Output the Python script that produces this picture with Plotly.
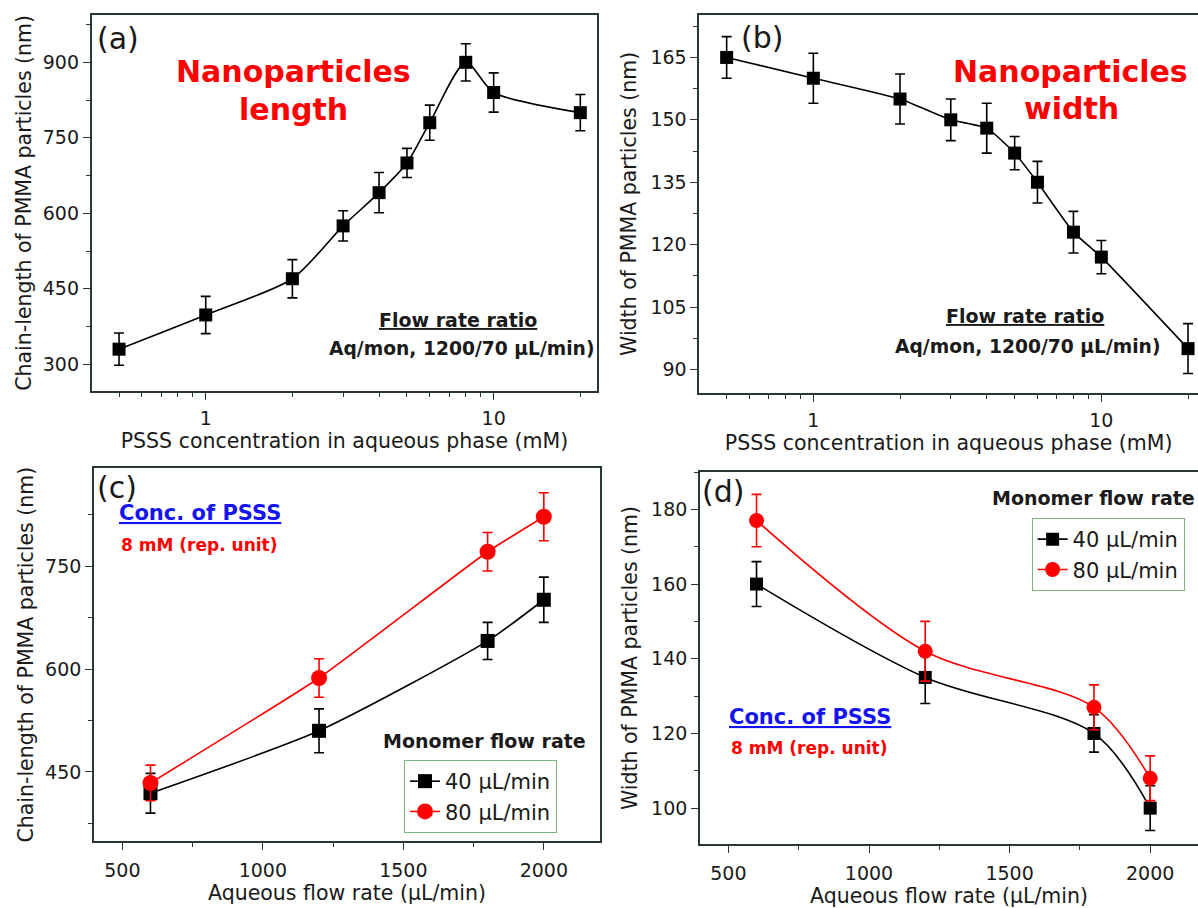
import plotly.graph_objects as go

FONT = "DejaVu Sans"

# ---------------- data ----------------
# Panel (a): chain-length vs PSSS concentration
conc_a = [0.5, 1, 2, 3, 4, 5, 6, 8, 10, 20]
length_a = [330, 398, 470, 575, 641, 700, 780, 900, 840, 800]
length_a_err = [32, 37, 38, 30, 40, 29, 35, 37, 39, 36]

# Panel (b): width vs PSSS concentration
conc_b = [0.5, 1, 2, 3, 4, 5, 6, 8, 10, 20]
width_b = [165, 160, 155, 150, 148, 142, 135, 123, 117, 95]
width_b_err = [5, 6, 6, 5, 6, 4, 5, 5, 4, 6]

# Panels (c), (d): vs aqueous flow rate
aq_flow = [600, 1200, 1800, 2000]
length_40 = [419, 510, 641, 701]
length_40_err = [29, 32, 27, 33]
length_80 = [434, 587, 771, 822]
length_80_err = [26, 28, 28, 35]
width_40 = [160, 135, 120, 100]
width_40_err = [6, 7, 5, 6]
width_80 = [177, 142, 127, 108]
width_80_err = [7, 8, 6, 6]

series_names = ["40 \u00b5L/min", "80 \u00b5L/min"]

log_tickvals = [1, 10]
log_ticktext = ["1", "10"]
log_minor_tickvals = [0.5, 0.6, 0.7, 0.8, 0.9, 2, 3, 4, 5, 6, 7, 8, 9, 20]
flow_tickvals = [500, 1000, 1500, 2000]

# ---------------- layout helpers ----------------
W, H = 1198, 908


def fx(p):
    return p / W


def fy(p):
    return 1 - p / H


AXC = "#2a3832"
TXT = "#1a1a1a"
RED = "#ff0000"
BLUE = "#1414f0"
BLACK = "#000000"


def base_axis(**kw):
    d = dict(
        showline=True, linecolor=AXC, linewidth=1.7,
        ticks="outside", ticklen=7, tickwidth=1.4, tickcolor=AXC,
        showgrid=False, zeroline=False,
        tickfont=dict(family=FONT, size=19, color=TXT),
        title_font=dict(family=FONT, size=20.5, color=TXT),
    )
    d.update(kw)
    return d


fig = go.Figure()


def add_series(x, y, err, xa, ya, color, symbol, msize, smoothing, name=None,
               legend=None, showlegend=False):
    fig.add_trace(go.Scatter(
        x=x, y=y, name=name, xaxis=xa, yaxis=ya,
        mode="lines+markers",
        line=dict(color=color, width=1.6, shape="spline", smoothing=smoothing),
        marker=dict(symbol=symbol, size=msize, color=color),
        error_y=dict(type="data", array=err, color=color, thickness=1.6, width=5),
        showlegend=showlegend, legend=legend, cliponaxis=False,
    ))


add_series(conc_a, length_a, length_a_err, "x", "y", BLACK, "square", 13, 0.7)
add_series(conc_b, width_b, width_b_err, "x2", "y2", BLACK, "square", 13, 0.5)
add_series(aq_flow, length_40, length_40_err, "x3", "y3", BLACK, "square", 14, 0.6,
           name=series_names[0], legend="legend", showlegend=True)
add_series(aq_flow, length_80, length_80_err, "x3", "y3", RED, "circle", 16, 0.4,
           name=series_names[1], legend="legend", showlegend=True)
add_series(aq_flow, width_40, width_40_err, "x4", "y4", BLACK, "square", 13, 0.9,
           name=series_names[0], legend="legend2", showlegend=True)
add_series(aq_flow, width_80, width_80_err, "x4", "y4", RED, "circle", 15, 0.9,
           name=series_names[1], legend="legend2", showlegend=True)

log_minor = dict(tickmode="array", tickvals=log_minor_tickvals, ticks="outside",
                 ticklen=4, tickwidth=1.2, tickcolor=AXC)

xtitle_conc = "PSSS concentration in aqueous phase (mM)"
xtitle_flow = "Aqueous flow rate (\u00b5L/min)"
ytitle_len = "Chain-length of PMMA particles (nm)"
ytitle_wid = "Width of PMMA particles (nm)"

legend_style = dict(
    xanchor="left", yanchor="top",
    bordercolor="#7ab87a", borderwidth=1, bgcolor="rgba(255,255,255,0)",
    font=dict(family=FONT, size=21, color=TXT), tracegroupgap=0, itemwidth=30,
)

fig.update_layout(
    width=W, height=H,
    margin=dict(l=0, r=0, t=0, b=0),
    paper_bgcolor="white", plot_bgcolor="white",
    font=dict(family=FONT, color=TXT),
    xaxis=base_axis(domain=[fx(91.7), fx(597.3)], anchor="y", type="log",
                    range=[-0.396, 1.36], mirror=True,
                    tickmode="array", tickvals=log_tickvals, ticktext=log_ticktext,
                    minor=log_minor, ticklabelstandoff=3,
                    title=dict(text=xtitle_conc, standoff=0)),
    yaxis=base_axis(domain=[fy(390.7), fy(15)], anchor="x", range=[247.5, 994],
                    tick0=0, dtick=150, mirror=True,
                    minor=dict(dtick=75, ticks="outside", ticklen=4, tickwidth=1.2, tickcolor=AXC),
                    title=dict(text=ytitle_len, standoff=6)),
    xaxis2=base_axis(domain=[fx(699.3), 1.0], anchor="y2", type="log",
                     range=[-0.396, 1.3356], mirror=True,
                     tickmode="array", tickvals=log_tickvals, ticktext=log_ticktext,
                     minor=log_minor, ticklabelstandoff=3,
                     title=dict(text=xtitle_conc, standoff=0)),
    yaxis2=base_axis(domain=[fy(392.7), fy(15)], anchor="x2", range=[84.4, 175.2],
                     tick0=0, dtick=15, mirror=False,
                     minor=dict(dtick=7.5, ticks="outside", ticklen=4, tickwidth=1.2, tickcolor=AXC),
                     title=dict(text=ytitle_wid, standoff=8)),
    xaxis3=base_axis(domain=[fx(94), fx(600)], anchor="y3", range=[399, 2200],
                     mirror=True, tickmode="array", tickvals=flow_tickvals,
                     minor=dict(dtick=250, tick0=0, ticks="outside", ticklen=4, tickwidth=1.2, tickcolor=AXC),
                     ticklabelstandoff=4,
                     title=dict(text=xtitle_flow, standoff=4)),
    yaxis3=base_axis(domain=[fy(841.3), fy(468)], anchor="x3", range=[349, 893],
                     tick0=0, dtick=150, mirror=True,
                     minor=dict(dtick=75, ticks="outside", ticklen=4, tickwidth=1.2, tickcolor=AXC),
                     title=dict(text=ytitle_len, standoff=6)),
    xaxis4=base_axis(domain=[fx(700), 1.0], anchor="y4", range=[399, 2170],
                     mirror=True, tickmode="array", tickvals=flow_tickvals,
                     minor=dict(dtick=250, tick0=0, ticks="outside", ticklen=4, tickwidth=1.2, tickcolor=AXC),
                     ticklabelstandoff=4,
                     title=dict(text=xtitle_flow, standoff=4)),
    yaxis4=base_axis(domain=[fy(844), fy(472)], anchor="x4", range=[90.4, 190],
                     tick0=0, dtick=20, mirror=False,
                     minor=dict(dtick=10, ticks="outside", ticklen=4, tickwidth=1.2, tickcolor=AXC),
                     title=dict(text=ytitle_wid, standoff=8)),
    legend=dict(x=fx(404), y=fy(760), **legend_style),
    legend2=dict(x=fx(1031.6), y=fy(518), **legend_style),
)


def note(text, x, y, size, color=TXT, bold=False, underline=False, xanchor="center"):
    font = dict(family=FONT, size=size, color=color)
    if underline:
        font["lineposition"] = "under"
    fig.add_annotation(
        text=f"<b>{text}</b>" if bold else text,
        x=fx(x), y=fy(y), xref="paper", yref="paper",
        xanchor=xanchor, yanchor="middle", showarrow=False, font=font,
    )


# panel labels
note("(a)", 117.5, 39, 30)
note("(b)", 761.6, 38, 30)
note("(c)", 116.7, 488, 30)
note("(d)", 723, 491, 30)

# (a) texts
note("Nanoparticles", 293, 72, 30, RED, bold=True)
note("length", 293, 110, 30, RED, bold=True)
note("Flow rate ratio", 458, 320, 19, bold=True, underline=True)
note("Aq/mon, 1200/70 \u00b5L/min)", 461, 348, 18.7, bold=True)

# (b) texts
note("Nanoparticles", 1070.5, 72, 30, RED, bold=True)
note("width", 1071.6, 108, 30, RED, bold=True)
note("Flow rate ratio", 1025, 316, 19, bold=True, underline=True)
note("Aq/mon, 1200/70 \u00b5L/min)", 1027.6, 346.7, 18.7, bold=True)

# (c) texts
note("Conc. of PSSS", 200, 513, 21, BLUE, bold=True, underline=True)
note("8 mM (rep. unit)", 199, 545, 17, RED, bold=True)
note("Monomer flow rate", 484, 741, 19, bold=True)

# (d) texts
note("Conc. of PSSS", 809.5, 717, 21, BLUE, bold=True, underline=True)
note("8 mM (rep. unit)", 809, 748, 17, RED, bold=True)
note("Monomer flow rate", 1197, 498, 19, bold=True, xanchor="right")

fig.write_html(
    "out.html",
    config={"displayModeBar": False},
    post_script="document.body.style.margin='0';document.body.style.padding='0';"
                "document.documentElement.style.overflow='hidden';",
)
